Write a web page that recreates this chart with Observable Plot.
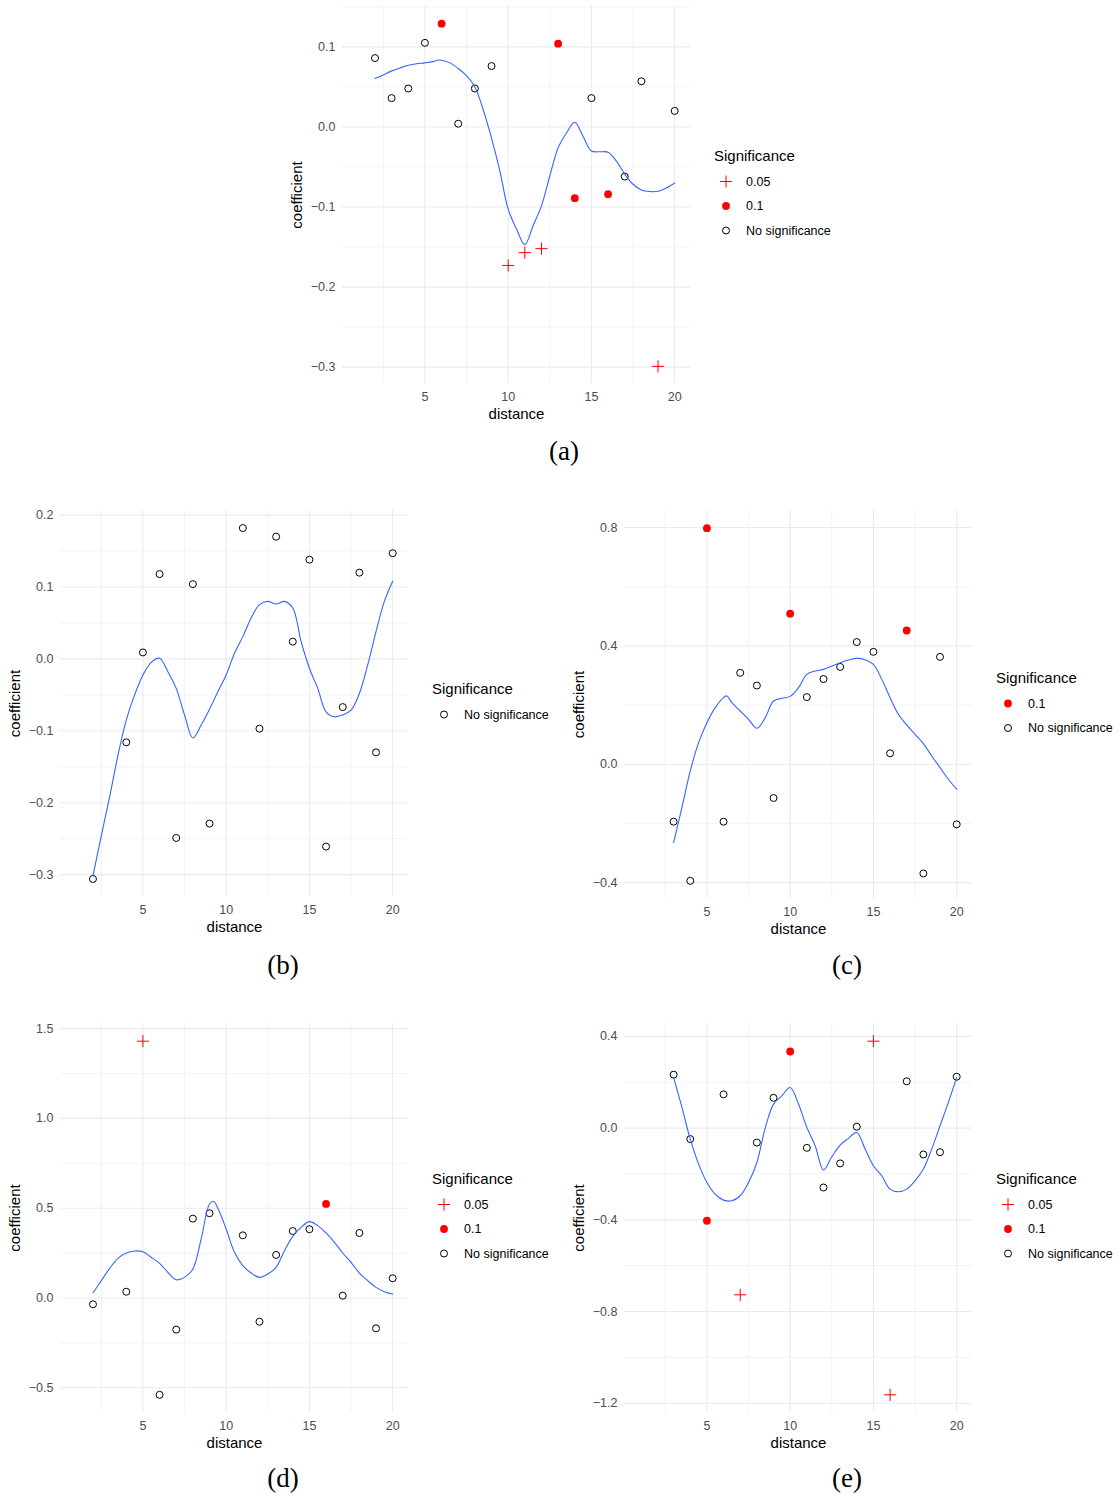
<!DOCTYPE html>
<html>
<head>
<meta charset="utf-8">
<script src="https://cdn.jsdelivr.net/npm/d3@7"></script>
<script src="https://cdn.jsdelivr.net/npm/@observablehq/plot@0.6"></script>
<style>
  body { margin: 0; background: #ffffff; }
  #page { position: relative; width: 1120px; height: 1500px; font-family: "Liberation Sans", Arial, sans-serif; }
  .panel { position: absolute; }
  .legend { position: absolute; overflow: visible; }
  .caption { position: absolute; font-family: "Liberation Serif", "DejaVu Serif", serif; font-size: 27px; line-height: 1; transform: translate(-50%, -50%); color: #000; }
</style>
</head>
<body>
<div id="page"></div>
<script>
// Distance lags covered by the analysis, and shared x ticks
const distanceExtent = [1, 20];
const xMajor = [5, 10, 15, 20];
const xMinor = [2.5, 7.5, 12.5, 17.5];
const levels = ["0.05", "0.1", "No significance"];

// ---- (a) ----
const distA = [2, 3, 4, 5, 6, 7, 8, 9, 10, 11, 12, 13, 14, 15, 16, 17, 18, 19, 20];
const coefA = [0.086, 0.036, 0.048, 0.105, 0.129, 0.004, 0.048, 0.076, -0.173, -0.157, -0.152, 0.104, -0.089, 0.036, -0.084, -0.062, 0.057, -0.299, 0.020];
const sigA = ["No significance", "No significance", "No significance", "No significance", "0.1", "No significance", "No significance", "No significance", "0.05", "0.05", "0.05", "0.1", "0.1", "No significance", "0.1", "No significance", "No significance", "0.05", "No significance"];
const smoothXA = [2, 2.5, 3, 3.5, 4, 4.5, 5, 5.5, 5.8, 6, 6.5, 7, 7.5, 8, 8.5, 9, 9.5, 10, 10.5, 11, 11.5, 12, 12.5, 13, 13.5, 14, 14.5, 15, 15.5, 16, 16.5, 17, 17.5, 18, 18.5, 19, 19.5, 20];
const smoothYA = [0.0605, 0.065, 0.070, 0.0737, 0.077, 0.079, 0.080, 0.0816, 0.0836, 0.0832, 0.080, 0.073, 0.064, 0.050, 0.0215, -0.014, -0.055, -0.1027, -0.1275, -0.147, -0.123, -0.0985, -0.0613, -0.026, -0.0075, 0.0058, -0.012, -0.030, -0.031, -0.0315, -0.0427, -0.059, -0.0716, -0.0787, -0.0807, -0.0803, -0.0762, -0.070];
const yMajorA = [-0.3, -0.2, -0.1, 0, 0.1];
const yMinorA = [-0.25, -0.15, -0.05, 0.05, 0.15];

// ---- (b) ----
const distB = [2, 4, 5, 6, 7, 8, 9, 11, 12, 13, 14, 15, 16, 17, 18, 19, 20];
const coefB = [-0.306, -0.116, 0.009, 0.118, -0.249, 0.104, -0.229, 0.182, -0.097, 0.170, 0.024, 0.138, -0.261, -0.067, 0.120, -0.130, 0.147];
const sigB = distB.map(() => "No significance");
const smoothXB = [2, 2.5, 3, 3.5, 4, 4.5, 5, 5.5, 6, 6.5, 7, 7.5, 8, 8.5, 9, 9.5, 10, 10.5, 11, 11.5, 12, 12.5, 13, 13.5, 14, 14.5, 15, 15.5, 16, 16.5, 17, 17.5, 18, 18.5, 19, 19.5, 20];
const smoothYB = [-0.3017, -0.246, -0.192, -0.134, -0.085, -0.050, -0.0223, -0.0047, 0.001, -0.0177, -0.041, -0.078, -0.110, -0.092, -0.070, -0.0456, -0.0223, 0.0079, 0.031, 0.0568, 0.0754, 0.080, 0.0763, 0.080, 0.0708, 0.0242, -0.013, -0.041, -0.0736, -0.0805, -0.078, -0.0712, -0.048, -0.0084, 0.038, 0.080, 0.108];
const yMajorB = [-0.3, -0.2, -0.1, 0, 0.1, 0.2];
const yMinorB = [-0.25, -0.15, -0.05, 0.05, 0.15];

// ---- (c) ----
const distC = [3, 4, 5, 6, 7, 8, 9, 10, 11, 12, 13, 14, 15, 16, 17, 18, 19, 20];
const coefC = [-0.194, -0.394, 0.798, -0.194, 0.309, 0.266, -0.114, 0.509, 0.227, 0.288, 0.329, 0.413, 0.380, 0.037, 0.452, -0.369, 0.363, -0.203];
const sigC = ["No significance", "No significance", "0.1", "No significance", "No significance", "No significance", "No significance", "0.1", "No significance", "No significance", "No significance", "No significance", "No significance", "No significance", "0.1", "No significance", "No significance", "No significance"];
const smoothXC = [3, 3.5, 4, 4.5, 5, 5.5, 6, 6.2, 6.5, 7, 7.5, 8, 8.5, 9, 9.5, 10, 10.5, 11, 11.5, 12, 12.5, 13, 13.5, 14, 14.5, 15, 15.5, 16, 16.5, 17, 17.5, 18, 18.5, 19, 19.5, 20];
const smoothYC = [-0.2644, -0.146, -0.0225, 0.0731, 0.1406, 0.1913, 0.225, 0.231, 0.2082, 0.180, 0.152, 0.1215, 0.1575, 0.2138, 0.2228, 0.2295, 0.2588, 0.3038, 0.315, 0.3207, 0.332, 0.3432, 0.3522, 0.3578, 0.3533, 0.3376, 0.2869, 0.225, 0.1688, 0.1328, 0.1013, 0.0698, 0.0281, -0.0113, -0.0506, -0.0844];
const yMajorC = [-0.4, 0, 0.4, 0.8];
const yMinorC = [-0.2, 0.2, 0.6];

// ---- (d) ----
const distD = [2, 4, 5, 6, 7, 8, 9, 11, 12, 13, 14, 15, 16, 17, 18, 19, 20];
const coefD = [-0.035, 0.035, 1.430, -0.539, -0.176, 0.442, 0.472, 0.349, -0.132, 0.240, 0.373, 0.383, 0.524, 0.013, 0.362, -0.169, 0.110];
const sigD = ["No significance", "No significance", "0.05", "No significance", "No significance", "No significance", "No significance", "No significance", "No significance", "No significance", "No significance", "No significance", "0.1", "No significance", "No significance", "No significance", "No significance"];
const smoothXD = [2, 2.5, 3, 3.5, 4, 4.5, 5, 5.5, 6, 6.5, 7, 7.5, 8, 8.5, 9, 9.25, 9.5, 10, 10.5, 11, 11.5, 12, 12.5, 13, 13.5, 14, 14.5, 15, 15.5, 16, 16.5, 17, 17.5, 18, 18.5, 19, 19.5, 20];
const smoothYD = [0.0279, 0.0966, 0.165, 0.221, 0.2507, 0.2618, 0.258, 0.2266, 0.193, 0.143, 0.102, 0.115, 0.1616, 0.3287, 0.5237, 0.537, 0.4995, 0.3844, 0.2544, 0.180, 0.139, 0.115, 0.1337, 0.1708, 0.2637, 0.3435, 0.3937, 0.4252, 0.403, 0.3621, 0.310, 0.2507, 0.1987, 0.139, 0.0966, 0.0594, 0.0353, 0.0223];
const yMajorD = [-0.5, 0, 0.5, 1, 1.5];
const yMinorD = [-0.25, 0.25, 0.75, 1.25];

// ---- (e) ----
const distE = [3, 4, 5, 6, 7, 8, 9, 10, 11, 12, 13, 14, 15, 16, 17, 18, 19, 20];
const coefE = [0.233, -0.048, -0.404, 0.147, -0.727, -0.063, 0.132, 0.334, -0.086, -0.259, -0.154, 0.006, 0.379, -1.163, 0.204, -0.115, -0.105, 0.224];
const sigE = ["No significance", "No significance", "0.1", "No significance", "0.05", "No significance", "No significance", "0.1", "No significance", "No significance", "No significance", "No significance", "0.05", "0.05", "No significance", "No significance", "No significance", "No significance"];
const smoothXE = [3, 3.5, 4, 4.5, 5, 5.5, 6, 6.5, 7, 7.5, 8, 8.5, 9, 9.5, 10, 10.5, 11, 11.5, 12, 12.5, 13, 13.5, 14, 14.5, 15, 15.5, 16, 16.5, 17, 17.5, 18, 18.5, 19, 19.5, 20];
const smoothYE = [0.221, 0.090, -0.048, -0.157, -0.237, -0.2878, -0.314, -0.317, -0.295, -0.237, -0.150, 0.0, 0.1047, 0.141, 0.1773, 0.105, 0.003, -0.077, -0.183, -0.125, -0.074, -0.045, -0.019, -0.0916, -0.164, -0.208, -0.266, -0.2776, -0.266, -0.2297, -0.1788, -0.0916, 0.0102, 0.112, 0.221];
const yMajorE = [-1.2, -0.8, -0.4, 0, 0.4];
const yMinorE = [-1.0, -0.6, -0.2, 0.2];

// Layout of each sub-figure on the page
const panels = [
  {tag: "(a)", dist: distA, coef: coefA, sig: sigA, sx: smoothXA, sy: smoothYA, yMajor: yMajorA, yMinor: yMinorA, left: 342, top: 6, h: 377, capX: 564, capY: 451},
  {tag: "(b)", dist: distB, coef: coefB, sig: sigB, sx: smoothXB, sy: smoothYB, yMajor: yMajorB, yMinor: yMinorB, left: 60, top: 510, h: 386, capX: 283, capY: 965},
  {tag: "(c)", dist: distC, coef: coefC, sig: sigC, sx: smoothXC, sy: smoothYC, yMajor: yMajorC, yMinor: yMinorC, left: 624, top: 510, h: 388, capX: 847, capY: 965},
  {tag: "(d)", dist: distD, coef: coefD, sig: sigD, sx: smoothXD, sy: smoothYD, yMajor: yMajorD, yMinor: yMinorD, left: 60, top: 1023, h: 389, capX: 283, capY: 1478},
  {tag: "(e)", dist: distE, coef: coefE, sig: sigE, sx: smoothXE, sy: smoothYE, yMajor: yMajorE, yMinor: yMinorE, left: 624, top: 1023, h: 389, capX: 847, capY: 1478}
];

const FRAME_W = 348;
const M = {left: 60, right: 10, top: 10, bottom: 45};
const RED = "#FF0000";
const BLUE = "#3366FF";
const GRID = "#EBEBEB";
const fmt = d3.format(".1f");

function expand([lo, hi], k = 0.05) {
  const pad = (hi - lo) * k;
  return [lo - pad, hi + pad];
}

const page = document.getElementById("page");

for (const p of panels) {
  const points = p.dist.map((d, i) => ({distance: d, coefficient: p.coef[i], sig: p.sig[i]}));
  const smooth = p.sx.map((d, i) => ({distance: d, coefficient: p.sy[i]}));
  const yDomain = expand(d3.extent(p.coef.concat(p.sy)));

  const chart = Plot.plot({
    width: M.left + FRAME_W + M.right,
    height: M.top + p.h + M.bottom,
    marginLeft: M.left,
    marginRight: M.right,
    marginTop: M.top,
    marginBottom: M.bottom,
    style: {fontFamily: "'Liberation Sans', Arial, sans-serif", fontSize: "12.5px", color: "#4D4D4D", background: "transparent", overflow: "visible"},
    x: {domain: expand(distanceExtent), label: null},
    y: {domain: yDomain, label: null},
    marks: [
      Plot.gridX({ticks: xMinor, stroke: GRID, strokeOpacity: 1, strokeWidth: 0.6}),
      Plot.gridY({ticks: p.yMinor, stroke: GRID, strokeOpacity: 1, strokeWidth: 0.6}),
      Plot.gridX({ticks: xMajor, stroke: GRID, strokeOpacity: 1, strokeWidth: 1.1}),
      Plot.gridY({ticks: p.yMajor, stroke: GRID, strokeOpacity: 1, strokeWidth: 1.1}),
      Plot.axisX({ticks: xMajor, tickSize: 0, tickPadding: 9, label: null, tickFormat: d3.format("d")}),
      Plot.axisY({ticks: p.yMajor, tickSize: 0, tickPadding: 7, label: null, tickFormat: fmt}),
      Plot.text(["distance"], {frameAnchor: "bottom", dy: 31, textAnchor: "middle", lineAnchor: "middle", fill: "black", fontSize: 15}),
      Plot.text(["coefficient"], {frameAnchor: "left", dx: -45, rotate: -90, textAnchor: "middle", lineAnchor: "middle", fill: "black", fontSize: 15}),
      Plot.dot(points.filter(d => d.sig === "No significance"), {x: "distance", y: "coefficient", r: 3.5, stroke: "black", fill: "none", strokeWidth: 1}),
      Plot.dot(points.filter(d => d.sig === "0.1"), {x: "distance", y: "coefficient", r: 3.9, fill: RED, stroke: "none"}),
      Plot.dot(points.filter(d => d.sig === "0.05"), {x: "distance", y: "coefficient", r: 4, symbol: "plus", stroke: RED, strokeWidth: 1}),
      Plot.line(smooth, {x: "distance", y: "coefficient", stroke: BLUE, strokeWidth: 1.1, curve: "catmull-rom"})
    ]
  });
  chart.classList.add("panel");
  chart.style.left = (p.left - M.left) + "px";
  chart.style.top = (p.top - M.top) + "px";
  page.appendChild(chart);

  // Legend for the significance levels present in this panel
  const present = levels.filter(l => p.sig.includes(l));
  const frameRight = p.left + FRAME_W;
  const centerY = p.top + p.h / 2;
  const titleY = centerY - 1.5 - (26.5 + (present.length - 1) * 24.5) / 2;
  const lg = d3.create("svg")
    .attr("class", "legend")
    .attr("width", 170)
    .attr("height", 110)
    .style("left", (frameRight + 20) + "px")
    .style("top", (titleY - 15) + "px");
  const ox = 4, oy = 15;
  lg.append("text")
    .attr("x", ox).attr("y", oy + 1).attr("dy", "0.35em")
    .attr("font-family", "'Liberation Sans', Arial, sans-serif")
    .attr("font-size", 15).attr("fill", "black")
    .text("Significance");
  present.forEach((lvl, i) => {
    const cy = oy + 26.5 + i * 24.5;
    const cx = ox + 12;
    if (lvl === "0.05") {
      lg.append("path").attr("d", `M${cx - 6},${cy}H${cx + 6}M${cx},${cy - 6}V${cy + 6}`).attr("stroke", RED).attr("stroke-width", 1).attr("fill", "none");
    } else if (lvl === "0.1") {
      lg.append("circle").attr("cx", cx).attr("cy", cy).attr("r", 3.9).attr("fill", RED);
    } else {
      lg.append("circle").attr("cx", cx).attr("cy", cy).attr("r", 3.5).attr("fill", "none").attr("stroke", "black").attr("stroke-width", 1);
    }
    lg.append("text")
      .attr("x", ox + 32).attr("y", cy).attr("dy", "0.35em")
      .attr("font-family", "'Liberation Sans', Arial, sans-serif")
      .attr("font-size", 12.5).attr("fill", "black")
      .text(lvl);
  });
  page.appendChild(lg.node());

  const cap = document.createElement("div");
  cap.className = "caption";
  cap.style.left = p.capX + "px";
  cap.style.top = p.capY + "px";
  cap.textContent = p.tag;
  page.appendChild(cap);
}
</script>
</body>
</html>
